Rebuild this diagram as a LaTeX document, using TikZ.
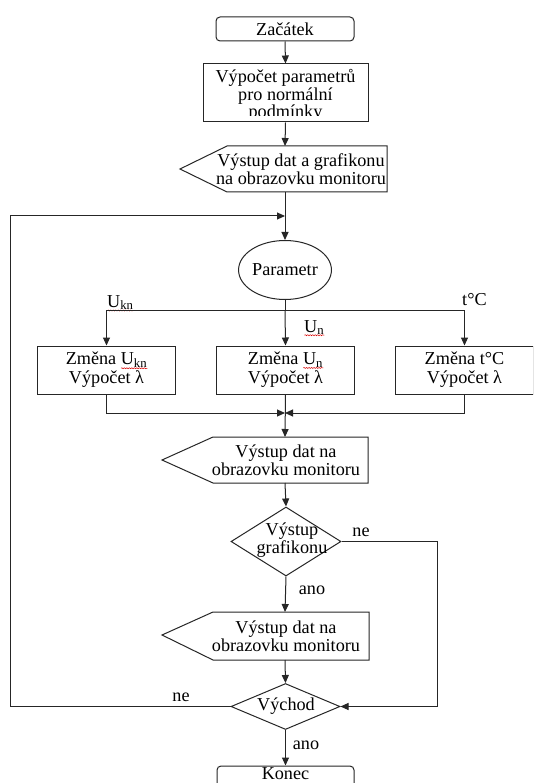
\documentclass[tikz,border=0pt]{standalone}
\usepackage{fontspec}
\setmainfont{Liberation Serif}
\usetikzlibrary{arrows.meta,shapes.geometric,decorations.pathmorphing,calc}
\newsavebox\wavybox
\newcommand\wavy[1]{\sbox\wavybox{#1}\leavevmode\rlap{\smash{\raisebox{-\dimexpr\dp\wavybox+0.6pt\relax}{\tikz[baseline=0pt]\draw[red!85!black,line width=0.5pt,decorate,decoration={snake,amplitude=0.5pt,segment length=2.5pt}] (0pt,0pt) -- (\wd\wavybox,0pt);}}}\usebox\wavybox}
\begin{document}
\begin{tikzpicture}[x=1pt,y=-1pt,
  line/.style={draw=black!85,line width=1pt},
  arr/.style={line,-{Triangle[length=8pt,width=7pt]}},
  txt/.style={font=\fontsize{18.2}{17.7}\selectfont,align=center,inner sep=0pt,text=black},
  termbox/.style={line,rounded corners=4pt,minimum width=138pt,minimum height=24pt,inner sep=0pt},
  procbox/.style={line,minimum width=138pt,minimum height=48pt,txt},
  decbox/.style={line,diamond,inner sep=0pt}]
\clip (0,0) rectangle (533,783);
\fill[white] (0,0) rectangle (533,783);

% start
\node[termbox] (start) at (285,29) {};
\node[txt] (startt) at (285,29) {Začátek};

% computation
\node[procbox,minimum width=165pt,minimum height=58pt] (calc) at (285.5,93) {};
\begin{scope}
\clip (203,64) rectangle (368,116);
\node[txt] (calct) at (285.5,95.5) {Výpočet parametrů\\pro normální\\podmínky};
\end{scope}

% display 1
\draw[line] (180,169) -- (227,146) -- (387,146) -- (387,192) -- (227,192) -- cycle;
\node[txt] (d1) at (301,169) {Výstup dat a grafikonu\\na obrazovku monitoru};
\coordinate (d1top) at (285,146);
\coordinate (d1bot) at (285,192);

% parameter
\node[line,ellipse,minimum width=84pt,minimum height=59pt,txt] (par) at (285,270) {Parametr};

% branches
\node[procbox] (b1) at (106.5,370) {};
\node[procbox] (b2) at (285.5,370) {};
\node[procbox] (b3) at (464.5,370) {};
\node[txt] (b1t) at (106.5,370) {Změna \wavy{U\textsubscript{kn}}\\[1.5pt]Výpočet λ};
\node[txt] (b2t) at (285.5,370) {Změna \wavy{U\textsubscript{n}}\\[1.5pt]Výpočet λ};
\node[txt] (b3t) at (464.5,370) {Změna t°C\\[1.5pt]Výpočet λ};
\node[txt,anchor=base west] (lkn) at (107,307) {\wavy{U\textsubscript{kn}}};
\node[txt,anchor=base west] (ln) at (304,332) {\wavy{U\textsubscript{n}}};
\node[txt,anchor=base west] (lt) at (462,305) {t°C};

% display 2
\draw[line] (162,460) -- (213,437) -- (368,437) -- (368,483) -- (213,483) -- cycle;
\node[txt] (d2) at (286,460) {Výstup dat na\\obrazovku monitoru};
\coordinate (d2top) at (285,437);
\coordinate (d2bot) at (285,483);

% decision 1
\node[decbox,minimum width=110pt,minimum height=69pt] (dia1) at (286,541.5) {};
\node[txt] (dia1t) at (292,540) {Výstup\\grafikonu};
\node[txt] (ne1) at (361,532) {ne};
\node[txt] (ano1) at (312,590) {ano};

% display 3
\draw[line] (162,635) -- (213,612) -- (369,612) -- (369,660) -- (213,660) -- cycle;
\node[txt] (d3) at (286,636) {Výstup dat na\\obrazovku monitoru};
\coordinate (d3top) at (285,612);
\coordinate (d3bot) at (285,660);

% decision 2
\node[decbox,minimum width=109pt,minimum height=46pt] (dia2) at (285.5,706.5) {};
\node[txt] (dia2t) at (286,706) {Východ};
\node[txt] (ne2) at (181,697) {ne};
\node[txt] (ano2) at (306,745) {ano};

% end
\node[termbox,minimum width=137pt] (end) at (285.5,778) {};
\node[txt] (endt) at (285.5,773.5) {Konec};

% connectors
\coordinate (br) at (285,310.5);
\coordinate (mg) at (285,413);
\coordinate (nr) at (437,541.5);
\coordinate (ll) at (10,706.5);
\coordinate (lu) at (10,216);
\coordinate (jn) at (285,216);

\draw[arr] (start.south) -- (calc.north);
\draw[arr] (calc.south) -- (d1top);
\draw[arr] (d1bot) -- (par.north);
\draw[line] (par.south) -- (br);
\draw[arr] (br) -- (b2.north);
\draw[arr] (br) -| (b1.north);
\draw[arr] (br) -| (b3.north);
\draw[arr] (b1.south) |- (mg);
\draw[arr] (b3.south) |- (mg);
\draw[arr] (b2.south) -- (d2top);
\draw[arr] (d2bot) -- (dia1.north);
\draw[arr] (dia1.east) -- (nr) |- (dia2.east);
\draw[arr] (dia1.south) -- (d3top);
\draw[arr] (d3bot) -- (dia2.north);
\draw[arr] (dia2.west) -- (ll) -- (lu) -- (jn);
\draw[arr] (dia2.south) -- (end.north);
\end{tikzpicture}
\end{document}
